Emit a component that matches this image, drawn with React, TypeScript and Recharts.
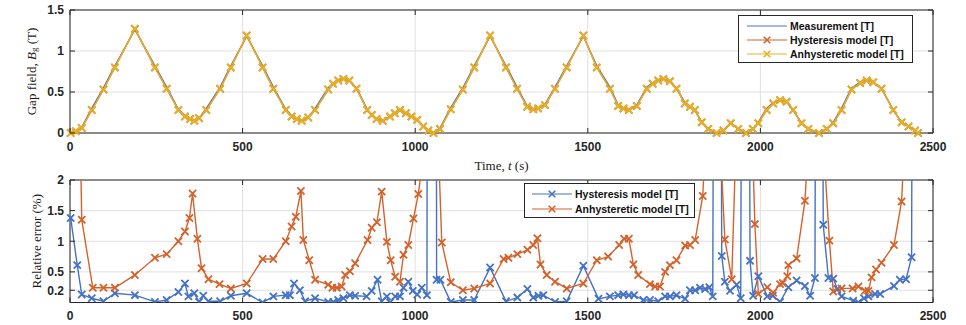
import { CartesianGrid, Line, LineChart, ReferenceArea, XAxis, YAxis } from "recharts";

const BLUE = "#4472c4";
const ORANGE = "#d4622b";
const YELLOW = "#e5b125";
const AXIS = "#262626";
const GRID = "#e0e0e0";

// top panel: gap field (T)
const fieldTime = [
  2, 17, 34, 63, 97, 130, 188, 246, 280, 314,
  333, 348, 360, 374, 395, 435, 466, 512, 558, 589,
  625, 642, 657, 671, 690, 710, 748, 762, 777, 792,
  809, 830, 861, 874, 888, 906, 927, 941, 956, 973,
  989, 1006, 1023, 1038, 1053, 1072, 1103, 1138, 1171, 1217,
  1263, 1295, 1324, 1342, 1356, 1376, 1405, 1439, 1487, 1526,
  1564, 1588, 1603, 1619, 1642, 1671, 1688, 1704, 1719, 1738,
  1757, 1781, 1796, 1810, 1830, 1849, 1873, 1893, 1914, 1936,
  1958, 1978, 1994, 2018, 2037, 2057, 2076, 2095, 2119, 2139,
  2170, 2192, 2211, 2235, 2264, 2289, 2308, 2327, 2351, 2385,
  2409, 2429, 2448, 2457,
];
const measuredField = [
  0, 0.02, 0.07, 0.3, 0.55, 0.82, 1.26, 0.82, 0.56, 0.29,
  0.21, 0.17, 0.15, 0.18, 0.3, 0.56, 0.82, 1.18, 0.82, 0.56,
  0.29, 0.21, 0.17, 0.15, 0.19, 0.3, 0.55, 0.61, 0.64, 0.66,
  0.64, 0.55, 0.29, 0.22, 0.17, 0.15, 0.2, 0.24, 0.28, 0.24,
  0.2, 0.16, 0.08, 0.03, 0, 0.06, 0.31, 0.55, 0.82, 1.18,
  0.82, 0.56, 0.33, 0.29, 0.3, 0.35, 0.56, 0.82, 1.18, 0.82,
  0.56, 0.34, 0.3, 0.28, 0.34, 0.56, 0.61, 0.64, 0.66, 0.63,
  0.55, 0.37, 0.32, 0.28, 0.13, 0.05, 0, 0.03, 0.12, 0.05,
  0, 0.05, 0.13, 0.3, 0.37, 0.4, 0.38, 0.28, 0.12, 0.05,
  0, 0.05, 0.13, 0.3, 0.55, 0.62, 0.64, 0.62, 0.54, 0.28,
  0.13, 0.08, 0.03, 0,
];
const hysteresisField = [
  0, 0.02, 0.06, 0.28, 0.53, 0.8, 1.27, 0.8, 0.54, 0.28,
  0.2, 0.17, 0.15, 0.18, 0.28, 0.54, 0.8, 1.19, 0.8, 0.54,
  0.28, 0.2, 0.17, 0.15, 0.19, 0.28, 0.53, 0.6, 0.64, 0.66,
  0.64, 0.54, 0.28, 0.22, 0.17, 0.15, 0.2, 0.24, 0.28, 0.24,
  0.2, 0.16, 0.08, 0.03, 0, 0.05, 0.29, 0.53, 0.8, 1.19,
  0.8, 0.54, 0.32, 0.29, 0.3, 0.34, 0.54, 0.8, 1.19, 0.8,
  0.54, 0.33, 0.3, 0.28, 0.33, 0.54, 0.6, 0.64, 0.66, 0.63,
  0.54, 0.36, 0.32, 0.28, 0.13, 0.05, 0, 0.03, 0.12, 0.05,
  0, 0.05, 0.12, 0.28, 0.36, 0.4, 0.38, 0.28, 0.12, 0.05,
  0, 0.05, 0.12, 0.28, 0.53, 0.61, 0.64, 0.62, 0.54, 0.28,
  0.13, 0.08, 0.03, 0,
];
const anhystereticField = [
  0, 0.02, 0.06, 0.28, 0.53, 0.8, 1.27, 0.8, 0.54, 0.28,
  0.2, 0.17, 0.15, 0.18, 0.28, 0.54, 0.8, 1.19, 0.8, 0.54,
  0.28, 0.2, 0.17, 0.15, 0.19, 0.28, 0.53, 0.6, 0.64, 0.66,
  0.64, 0.54, 0.28, 0.22, 0.17, 0.15, 0.2, 0.24, 0.28, 0.24,
  0.2, 0.16, 0.08, 0.03, 0, 0.05, 0.29, 0.53, 0.8, 1.19,
  0.8, 0.54, 0.32, 0.29, 0.3, 0.34, 0.54, 0.8, 1.19, 0.8,
  0.54, 0.33, 0.3, 0.28, 0.33, 0.54, 0.6, 0.64, 0.66, 0.63,
  0.54, 0.36, 0.32, 0.28, 0.13, 0.05, 0, 0.03, 0.12, 0.05,
  0, 0.05, 0.12, 0.28, 0.36, 0.4, 0.38, 0.28, 0.12, 0.05,
  0, 0.05, 0.12, 0.28, 0.53, 0.61, 0.64, 0.62, 0.54, 0.28,
  0.13, 0.08, 0.03, 0,
];
const fieldTicks = [0, 0.5, 1, 1.5];

// bottom panel: relative error (%)
const hysteresisErrTime = [
  2, 21, 34, 63, 97, 130, 188, 246, 280, 314,
  333, 343, 360, 374, 386, 401, 435, 466, 512, 558,
  589, 625, 637, 649, 666, 681, 710, 748, 763, 777,
  792, 811, 826, 859, 874, 891, 903, 918, 927, 942,
  956, 966, 980, 993, 1006, 1019, 1034, 1040, 1058, 1062,
  1073, 1103, 1138, 1171, 1217, 1263, 1296, 1325, 1342, 1357,
  1371, 1405, 1439, 1487, 1531, 1564, 1588, 1603, 1619, 1634,
  1661, 1680, 1704, 1724, 1738, 1757, 1782, 1796, 1811, 1825,
  1840, 1852, 1862, 1875, 1888, 1897, 1912, 1931, 1943, 1956,
  1970, 1979, 1994, 2020, 2036, 2057, 2081, 2105, 2129, 2144,
  2158, 2170, 2182, 2197, 2211, 2223, 2235, 2269, 2284, 2300,
  2313, 2332, 2347, 2387, 2404, 2422, 2438, 2450,
];
const hysteresisErr = [
  1.38, 0.61, 0.13, 0.07, 0.02, 0.15, 0.12, 0.01, 0.04, 0.17,
  0.31, 0.1, 0.15, 0.01, 0.11, 0.02, 0.02, 0.11, 0.15, 0,
  0.1, 0.12, 0.12, 0.31, 0.2, 0.02, 0.07, 0.01, 0.01, 0.04,
  0.07, 0.12, 0.11, 0.1, 0.19, 0.37, 0.02, 0.1, 0, 0.1,
  0.1, 0.24, 0.34, 0.19, 0.13, 0.24, 0.12, 25, 25, 0.37,
  0.37, 0.01, 0.04, 0.04, 0.57, 0.02, 0.08, 0.22, 0.08, 0.11,
  0.12, 0.01, 0.02, 0.6, 0.06, 0.1, 0.12, 0.13, 0.12, 0.12,
  0.04, 0.04, 0.02, 0.1, 0.1, 0.12, 0.06, 0.2, 0.2, 0.24,
  0.22, 0.25, 0.1, 25, 0.76, 0.34, 0.19, 0.29, 0.07, 25,
  0.68, 0.11, 0.43, 0.1, 0.11, 0.01, 0.25, 0.36, 0.27, 0.11,
  0.4, 25, 1.27, 0.4, 0.39, 0.22, 0.1, 0.03, 0, 0.07,
  0.1, 0.14, 0.14, 0.27, 0.37, 0.38, 0.74, 25,
];
const anhystereticErrTime = [
  2, 17, 34, 66, 97, 130, 188, 246, 280, 314,
  333, 346, 355, 369, 381, 401, 433, 466, 512, 558,
  589, 625, 642, 654, 669, 676, 693, 710, 748, 760,
  773, 787, 797, 811, 826, 862, 874, 889, 903, 918,
  929, 942, 956, 966, 980, 995, 1009, 1024, 1038, 1053,
  1063, 1077, 1103, 1138, 1171, 1217, 1256, 1270, 1296, 1325,
  1342, 1354, 1363, 1381, 1405, 1439, 1487, 1526, 1559, 1591,
  1605, 1619, 1632, 1646, 1680, 1695, 1709, 1724, 1738, 1757,
  1782, 1796, 1811, 1833, 1844, 1861, 1878, 1897, 1917, 1936,
  1953, 1970, 1984, 1994, 2020, 2037, 2057, 2065, 2078, 2081,
  2105, 2129, 2144, 2160, 2177, 2200, 2211, 2235, 2267, 2284,
  2303, 2313, 2322, 2335, 2351, 2387, 2409, 2429, 2448,
];
const anhystereticErr = [
  12, 7, 1.35, 0.24, 0.24, 0.24, 0.45, 0.73, 0.79, 1,
  1.16, 1.38, 1.78, 1.04, 0.56, 0.38, 0.3, 0.23, 0.31, 0.71,
  0.71, 1, 1.24, 1.4, 1.82, 1.02, 0.69, 0.37, 0.29, 0.24,
  0.24, 0.26, 0.45, 0.51, 0.64, 1.02, 1.22, 1.31, 1.81, 0.99,
  0.69, 0.42, 0.34, 0.78, 0.94, 1.37, 1.77, 2.4, 6, 8,
  3.2, 0.98, 0.33, 0.2, 0.23, 0.31, 0.71, 0.73, 0.79, 0.86,
  0.94, 1.05, 0.62, 0.45, 0.34, 0.23, 0.31, 0.69, 0.75, 0.94,
  1.04, 1.04, 0.62, 0.45, 0.3, 0.26, 0.26, 0.5, 0.61, 0.69,
  0.93, 0.94, 1.02, 1.74, 3, 6, 3.3, 1.03, 0.38, 3.9,
  8, 3.9, 1.28, 0.14, 0.25, 0.16, 0.3, 0.32, 0.43, 0.61,
  0.72, 1.66, 3.1, 7, 3.1, 1.01, 0.18, 0.23, 0.23, 0.26,
  0.19, 0.19, 0.41, 0.54, 0.65, 0.94, 1.65, 4, 10,
];
const errorTicks = [0.2, 0.5, 1, 1.5, 2];
const timeTicks = [0, 500, 1000, 1500, 2000, 2500];

const fieldRows = fieldTime.map((t, i) => ({
  t,
  measured: measuredField[i],
  hysteresis: hysteresisField[i],
  anhysteretic: anhystereticField[i],
}));
const hysteresisErrRows = hysteresisErrTime.map((t, i) => ({ t, value: hysteresisErr[i] }));
const anhystereticErrRows = anhystereticErrTime.map((t, i) => ({ t, value: anhystereticErr[i] }));

const PLOT_W = 863;
const TOP_PLOT_H = 123;
const BOTTOM_PLOT_H = 122.5;
const TICK_LEN = 5;
const X_MARGIN = 9;
const Y_MARGIN = 6;
const MARK_R = 3.6;
const LINE_W = 1.4;

const tickFont = {
  fontFamily: '"Liberation Sans", Arial, sans-serif',
  fontSize: 12,
  fontWeight: 700,
  fill: AXIS,
};
const labelFont = {
  fontFamily: '"Liberation Serif", "Times New Roman", serif',
  fontSize: 13,
  fill: "#1a1a1a",
};

const cross = (cx: number, cy: number, r: number) =>
  `M${cx - r},${cy - r}L${cx + r},${cy + r}M${cx - r},${cy + r}L${cx + r},${cy - r}`;

function crossDot(color: string) {
  return (props: any) => {
    const { cx, cy, index } = props;
    if (cx == null || cy == null) return <g key={index} />;
    return <path key={index} d={cross(cx, cy, MARK_R)} stroke={color} strokeWidth={1.8} fill="none" />;
  };
}

// MATLAB style ticks: labels outside, short marks inside the box on both sides
function makeXTick(plotH: number) {
  return (props: any) => {
    const { x, y, payload } = props;
    const base = y - X_MARGIN;
    return (
      <g>
        <line x1={x} x2={x} y1={base} y2={base - TICK_LEN} stroke={AXIS} />
        <line x1={x} x2={x} y1={base - plotH} y2={base - plotH + TICK_LEN} stroke={AXIS} />
        <text x={x} y={y} dy="0.71em" textAnchor="middle" {...tickFont}>
          {payload.value}
        </text>
      </g>
    );
  };
}

function YTick(props: any) {
  const { x, y, payload } = props;
  const base = x + Y_MARGIN;
  return (
    <g>
      <line x1={base} x2={base + TICK_LEN} y1={y} y2={y} stroke={AXIS} />
      <line x1={base + PLOT_W} x2={base + PLOT_W - TICK_LEN} y1={y} y2={y} stroke={AXIS} />
      <text x={x} y={y} dy="0.355em" textAnchor="end" {...tickFont}>
        {payload.value}
      </text>
    </g>
  );
}

function GapFieldLabel(props: any) {
  const vb = props.viewBox ?? { x: 0, y: 10, width: 70, height: TOP_PLOT_H };
  const cx = vb.x + 31;
  const cy = vb.y + vb.height / 2;
  return (
    <text x={cx} y={cy} transform={`rotate(-90 ${cx} ${cy})`} textAnchor="middle" dominantBaseline="central" {...labelFont}>
      {"Gap field, "}
      <tspan fontStyle="italic">B</tspan>
      <tspan fontSize={9} dy={3}>g</tspan>
      <tspan dy={-3}>{" (T)"}</tspan>
    </text>
  );
}

function ErrorLabel(props: any) {
  const vb = props.viewBox ?? { x: 0, y: 15, width: 70, height: BOTTOM_PLOT_H };
  const cx = vb.x + 36;
  const cy = vb.y + vb.height / 2;
  return (
    <text x={cx} y={cy} transform={`rotate(-90 ${cx} ${cy})`} textAnchor="middle" dominantBaseline="central" {...labelFont}>
      Relative error (%)
    </text>
  );
}

function TimeLabel(props: any) {
  const vb = props.viewBox ?? { x: 70, y: 133, width: PLOT_W, height: 42 };
  const cx = vb.x + vb.width / 2;
  return (
    <text x={cx} y={vb.y + 37} textAnchor="middle" {...labelFont}>
      {"Time, "}
      <tspan fontStyle="italic">t</tspan>
      {" (s)"}
    </text>
  );
}

interface LegendItem {
  label: string;
  color: string;
  marker: boolean;
}

const fieldLegend: LegendItem[] = [
  { label: "Measurement [T]", color: BLUE, marker: false },
  { label: "Hysteresis model [T]", color: ORANGE, marker: true },
  { label: "Anhysteretic model [T]", color: YELLOW, marker: true },
];
const errorLegend: LegendItem[] = [
  { label: "Hysteresis model [T]", color: BLUE, marker: true },
  { label: "Anhysteretic model [T]", color: ORANGE, marker: true },
];

function LegendBox({ items, left, top, width, rowHeight, padLeft, padTop }: {
  items: LegendItem[];
  left: number;
  top: number;
  width: number;
  rowHeight: number;
  padLeft: number;
  padTop: number;
}) {
  return (
    <div
      style={{
        position: "absolute",
        left,
        top,
        width,
        boxSizing: "border-box",
        border: `1px solid ${AXIS}`,
        background: "#fff",
        padding: `${padTop}px 0 1px ${padLeft}px`,
      }}
    >
      {items.map((item) => (
        <div key={item.label} style={{ display: "flex", alignItems: "center", height: rowHeight }}>
          <svg width={40} height={10} style={{ display: "block" }}>
            <line x1={0} x2={40} y1={5} y2={5} stroke={item.color} strokeWidth={1.2} />
            {item.marker && <path d={cross(20, 5, 3.3)} stroke={item.color} strokeWidth={1.6} fill="none" />}
          </svg>
          <span
            style={{
              marginLeft: 3,
              fontFamily: '"Liberation Sans", Arial, sans-serif',
              fontSize: 10.5,
              fontWeight: 700,
              color: "#111",
              whiteSpace: "nowrap",
            }}
          >
            {item.label}
          </span>
        </div>
      ))}
    </div>
  );
}

export default function App() {
  return (
    <div style={{ position: "absolute", left: 0, top: 0, width: 966, height: 325, background: "#fff" }}>
      <div style={{ position: "absolute", left: 0, top: 0 }}>
        <LineChart width={966} height={175} data={fieldRows} margin={{ top: 10, right: 33, left: 0, bottom: 0 }}>
          <CartesianGrid stroke={GRID} />
          <XAxis
            dataKey="t"
            type="number"
            domain={[0, 2500]}
            ticks={timeTicks}
            interval={0}
            height={42}
            tickSize={0}
            tickMargin={X_MARGIN}
            axisLine={false}
            tickLine={false}
            tick={makeXTick(TOP_PLOT_H)}
            label={<TimeLabel />}
          />
          <YAxis
            type="number"
            domain={[0, 1.5]}
            ticks={fieldTicks}
            interval={0}
            width={70}
            tickSize={0}
            tickMargin={Y_MARGIN}
            axisLine={false}
            tickLine={false}
            tick={<YTick />}
            label={<GapFieldLabel />}
          />
          <ReferenceArea x1={0} x2={2500} y1={0} y2={1.5} fill="none" stroke={AXIS} />
          <Line dataKey="measured" stroke={BLUE} strokeWidth={LINE_W} dot={false} activeDot={false} isAnimationActive={false} />
          <Line dataKey="hysteresis" stroke={ORANGE} strokeWidth={LINE_W} dot={crossDot(ORANGE)} activeDot={false} isAnimationActive={false} />
          <Line dataKey="anhysteretic" stroke={YELLOW} strokeWidth={LINE_W} dot={crossDot(YELLOW)} activeDot={false} isAnimationActive={false} />
        </LineChart>
      </div>
      <div style={{ position: "absolute", left: 0, top: 165 }}>
        <LineChart width={966} height={160} margin={{ top: 15, right: 33, left: 0, bottom: 0 }}>
          <CartesianGrid stroke={GRID} />
          <XAxis
            dataKey="t"
            type="number"
            domain={[0, 2500]}
            ticks={timeTicks}
            interval={0}
            height={22.5}
            tickSize={0}
            tickMargin={X_MARGIN}
            axisLine={false}
            tickLine={false}
            tick={makeXTick(BOTTOM_PLOT_H)}
          />
          <YAxis
            type="number"
            domain={[0, 2]}
            ticks={errorTicks}
            interval={0}
            allowDataOverflow
            width={70}
            tickSize={0}
            tickMargin={Y_MARGIN}
            axisLine={false}
            tickLine={false}
            tick={<YTick />}
            label={<ErrorLabel />}
          />
          <ReferenceArea x1={0} x2={2500} y1={0} y2={2} fill="none" stroke={AXIS} />
          <Line data={hysteresisErrRows} dataKey="value" stroke={BLUE} strokeWidth={LINE_W} dot={crossDot(BLUE)} activeDot={false} isAnimationActive={false} />
          <Line data={anhystereticErrRows} dataKey="value" stroke={ORANGE} strokeWidth={LINE_W} dot={crossDot(ORANGE)} activeDot={false} isAnimationActive={false} />
        </LineChart>
      </div>
      <LegendBox items={fieldLegend} left={738} top={15} width={175} rowHeight={14} padLeft={8} padTop={3} />
      <LegendBox items={errorLegend} left={524} top={183} width={171} rowHeight={15} padLeft={7} padTop={2} />
    </div>
  );
}
